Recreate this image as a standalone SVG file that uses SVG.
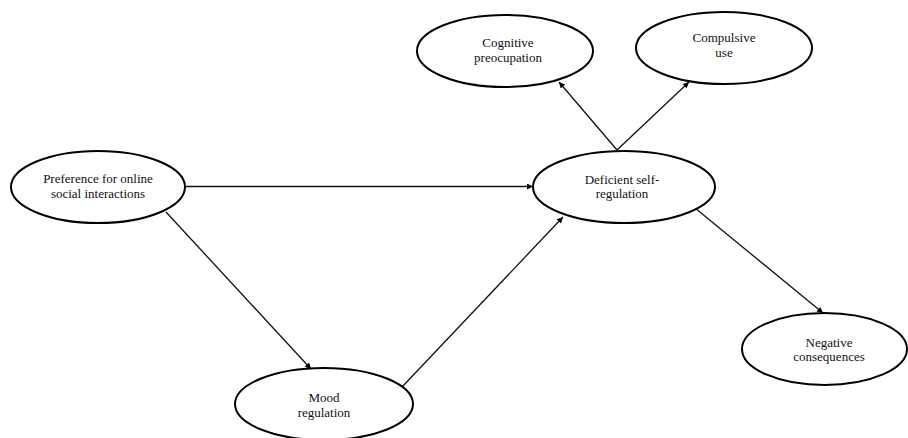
<svg xmlns="http://www.w3.org/2000/svg" width="908" height="438" viewBox="0 0 908 438">
<style>
.node ellipse{fill:#fff;stroke:#000;stroke-width:2}
.node text{font-family:"Liberation Serif","Times New Roman",serif;font-size:13px;fill:#111;text-anchor:middle}
.edges line{stroke:#111;stroke-width:1.3;fill:none;marker-end:url(#arr)}
</style>
<defs>
<marker id="arr" viewBox="0 0 10 10" refX="10" refY="5" markerWidth="8" markerHeight="6" markerUnits="userSpaceOnUse" orient="auto">
<path d="M0,0 L10,5 L0,10 Z" fill="#000"/>
</marker>
</defs>
<rect width="908" height="438" fill="#fff"/>
<g class="edges">
<line x1="186" y1="186.5" x2="533" y2="186.5"/>
<line x1="166" y1="212" x2="311" y2="369"/>
<line x1="402" y1="387" x2="563" y2="217"/>
<line x1="617" y1="150" x2="559" y2="82"/>
<line x1="617" y1="150" x2="689" y2="82"/>
<line x1="695" y1="208" x2="823" y2="313"/>
</g>
<g id="preference" class="node">
<ellipse cx="98" cy="187" rx="87" ry="36"/>
<text x="98" y="183">Preference for online</text>
<text x="98" y="197.5">social interactions</text>
</g>
<g id="mood" class="node">
<ellipse cx="324" cy="404" rx="89" ry="36"/>
<text x="324" y="402">Mood</text>
<text x="324" y="416.5">regulation</text>
</g>
<g id="deficient" class="node">
<ellipse cx="624" cy="187" rx="91" ry="36"/>
<text x="622" y="183.5">Deficient self-</text>
<text x="622" y="198">regulation</text>
</g>
<g id="cognitive" class="node">
<ellipse cx="505" cy="51" rx="88" ry="36"/>
<text x="508" y="47">Cognitive</text>
<text x="508" y="61.5">preocupation</text>
</g>
<g id="compulsive" class="node">
<ellipse cx="724" cy="48" rx="88" ry="36"/>
<text x="724" y="42">Compulsive</text>
<text x="724" y="56.5">use</text>
</g>
<g id="negative" class="node">
<ellipse cx="824.5" cy="349" rx="82.5" ry="36"/>
<text x="829" y="347">Negative</text>
<text x="829" y="361">consequences</text>
</g>
</svg>
